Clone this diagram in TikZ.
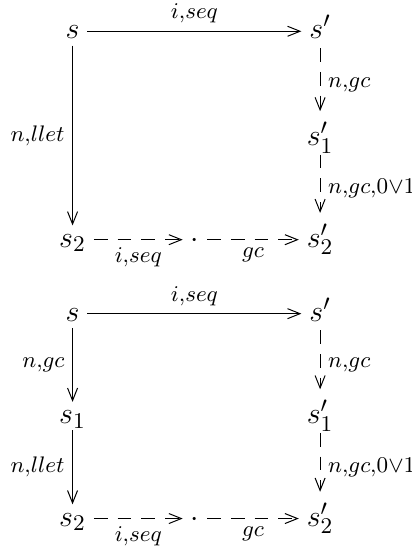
\documentclass[tikz,border=0pt,12pt]{standalone}
\DeclareMathSizes{12}{12}{9}{6}
\usetikzlibrary{arrows.meta}

\begin{document}
\begin{tikzpicture}[
  >={Straight Barb[length=5pt,width=4pt]},
  ->,
  thin,
  obj/.style={inner xsep=3pt,inner ysep=0.5pt,text height=8pt,text depth=2pt},
  lbl/.style={inner sep=3pt,execute at begin node=$\scriptstyle,execute at end node=$},
  dash arrow/.style={dash pattern=on 5.5pt off 4pt},
  down dash/.style={dash arrow,shorten >=5pt,shorten <=1pt},
]
\useasboundingbox (0,0) rectangle (5.79,7.69);
% upper square
\node[obj] (sa) at (1.02,7.25) {$s$};
\node[obj] (spa) at (4.50,7.25) {$s'$};
\node[obj] (sp1a) at (4.50,5.75) {$s'_1$};
\node[obj] (s2a) at (1.02,4.32) {$s_2$};
\node[obj] (dota) at (2.74,4.32) {$\cdot$};
\node[obj] (sp2a) at (4.50,4.32) {$s'_2$};
\draw (sa) -- node[lbl,midway,above] {i,seq} (spa);
\draw (sa) -- node[lbl,midway,left] {n,llet} (s2a);
\draw[down dash] (spa) -- node[lbl,midway,right] {n,gc} (sp1a);
\draw[down dash] (sp1a) -- node[lbl,midway,right] {n,gc,0\vee1} (sp2a);
\draw[dash arrow] (s2a) -- node[lbl,midway,below] {i,seq} (dota);
\draw[dash arrow] (dota) -- node[lbl,midway,below] {gc} (sp2a);
% lower square
\node[obj] (sb) at (1.02,3.28) {$s$};
\node[obj] (spb) at (4.50,3.28) {$s'$};
\node[obj] (s1b) at (1.02,1.84) {$s_1$};
\node[obj] (sp1b) at (4.50,1.84) {$s'_1$};
\node[obj] (s2b) at (1.02,0.40) {$s_2$};
\node[obj] (dotb) at (2.74,0.40) {$\cdot$};
\node[obj] (sp2b) at (4.50,0.40) {$s'_2$};
\draw (sb) -- node[lbl,midway,above] {i,seq} (spb);
\draw (sb) -- node[lbl,midway,left] {n,gc} (s1b);
\draw (s1b) -- node[lbl,midway,left] {n,llet} (s2b);
\draw[down dash] (spb) -- node[lbl,midway,right] {n,gc} (sp1b);
\draw[down dash] (sp1b) -- node[lbl,midway,right] {n,gc,0\vee1} (sp2b);
\draw[dash arrow] (s2b) -- node[lbl,midway,below] {i,seq} (dotb);
\draw[dash arrow] (dotb) -- node[lbl,midway,below] {gc} (sp2b);
\end{tikzpicture}
\end{document}
